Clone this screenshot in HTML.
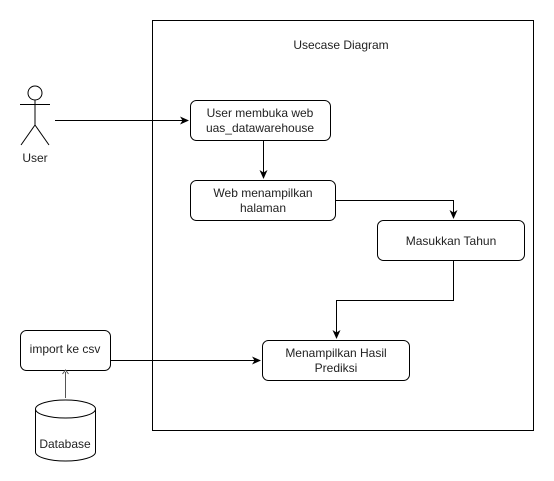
<!DOCTYPE html>
<html><head><style>body{margin:0;background:#fff}svg{display:block}text{font-family:"Liberation Sans",sans-serif;font-size:12px;fill:#222}</style></head>
<body>
<svg width="554" height="481" viewBox="0 0 554 481">
<defs><marker id="a" markerWidth="10" markerHeight="10" refX="8" refY="5" orient="auto" markerUnits="userSpaceOnUse"><path d="M0,1 L9,5 L0,9 L2.5,5 Z" fill="#000"/></marker></defs>
<rect x="152.5" y="20.5" width="381" height="410" fill="none" stroke="#000"/>
<text x="341" y="49" text-anchor="middle">Usecase Diagram</text>
<g stroke="#000" fill="none" stroke-width="1">
<circle cx="35" cy="93" r="7" fill="#fff"/>
<line x1="35" y1="100" x2="35" y2="125"/>
<line x1="20" y1="104.5" x2="50" y2="104.5"/>
<line x1="35" y1="125" x2="21" y2="145"/>
<line x1="35" y1="125" x2="49" y2="145"/>
<rect x="190.5" y="100.5" width="140" height="40" rx="6" fill="#fff"/>
<rect x="190.5" y="180.5" width="145" height="40" rx="6" fill="#fff"/>
<rect x="377.5" y="220.5" width="147" height="40" rx="6" fill="#fff"/>
<rect x="262.5" y="340.5" width="147" height="40" rx="6" fill="#fff"/>
<rect x="20.5" y="330.5" width="90" height="40" rx="6" fill="#fff"/>
<path d="M35.5,409 A30,9 0 0 1 95.5,409 V452 A30,9 0 0 1 35.5,452 Z" fill="#fff"/>
<path d="M35.5,409 A30,9 0 0 0 95.5,409"/>
<path d="M55,120.5 H188" marker-end="url(#a)"/>
<path d="M263.5,140 V178" marker-end="url(#a)"/>
<path d="M336,200.5 H453.5 V218" marker-end="url(#a)"/>
<path d="M453.5,261 V300.5 H336.5 V338" marker-end="url(#a)"/>
<path d="M111,360.5 H260" marker-end="url(#a)"/>
<path d="M65.5,398 V372" stroke="#555"/>
<path d="M62.5,374 L65.5,370 L68.5,374" stroke="#555"/>
</g>
<text x="35" y="162" text-anchor="middle">User</text>
<text x="260" y="117" text-anchor="middle">User membuka web</text>
<text x="260" y="132" text-anchor="middle">uas_datawarehouse</text>
<text x="263" y="197" text-anchor="middle">Web menampilkan</text>
<text x="263" y="212" text-anchor="middle">halaman</text>
<text x="451" y="245" text-anchor="middle">Masukkan Tahun</text>
<text x="336" y="357" text-anchor="middle">Menampilkan Hasil</text>
<text x="336" y="372" text-anchor="middle">Prediksi</text>
<text x="65" y="353" text-anchor="middle">import ke csv</text>
<text x="65" y="448" text-anchor="middle">Database</text>
</svg>
</body></html>
